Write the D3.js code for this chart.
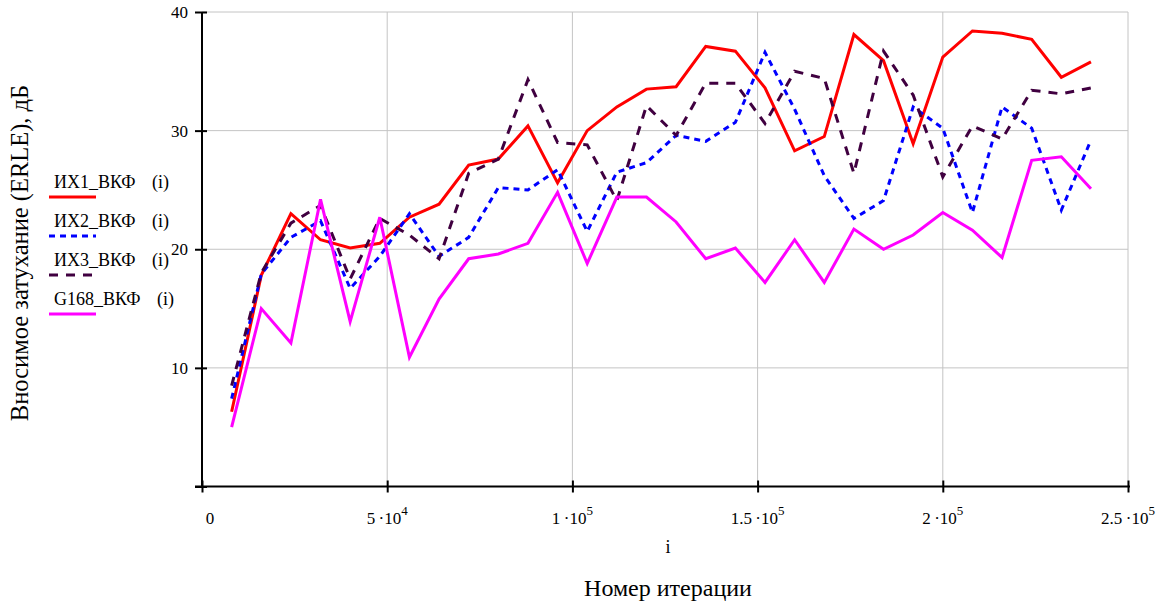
<!DOCTYPE html>
<html>
<head>
<meta charset="utf-8">
<script src="https://cdn.jsdelivr.net/npm/d3@7"></script>
<style>
  html, body { margin: 0; padding: 0; background: #fff; }
  svg { display: block; }
  text { font-family: "Liberation Serif", "Times New Roman", serif; fill: #000; }
</style>
</head>
<body>
<svg id="chart" width="1171" height="605"></svg>
<script>
// Iteration numbers (sample points)
const iterations = [8000, 16000, 24000, 32000, 40000, 48000, 56000, 64000, 72000, 80000,
  88000, 96000, 104000, 112000, 120000, 128000, 136000, 144000, 152000, 160000,
  168000, 176000, 184000, 192000, 200000, 208000, 216000, 224000, 232000, 240000];

// ERLE, dB
const ix1 = [6.3, 17.8, 23.0, 20.8, 20.1, 20.5, 22.7, 23.8, 27.1, 27.6,
  30.4, 25.6, 30.0, 32.0, 33.5, 33.7, 37.1, 36.7, 33.6, 28.3,
  29.5, 38.1, 35.9, 28.9, 36.2, 38.4, 38.2, 37.7, 34.5, 35.8];
const ix2 = [7.4, 17.9, 21.0, 22.4, 16.7, 19.4, 23.0, 19.4, 21.0, 25.2,
  25.0, 26.7, 21.5, 26.5, 27.3, 29.6, 29.1, 30.7, 36.6, 31.8,
  26.2, 22.6, 24.1, 32.0, 30.2, 23.1, 32.0, 30.2, 23.3, 29.2];
const ix3 = [8.5, 18.0, 22.2, 23.7, 17.5, 22.6, 21.2, 19.2, 26.4, 27.6,
  34.3, 29.0, 28.8, 24.1, 32.1, 29.6, 34.0, 34.0, 30.6, 35.0,
  34.4, 26.4, 36.7, 33.0, 26.1, 30.4, 29.3, 33.4, 33.1, 33.6];
const g168 = [5.0, 15.0, 12.1, 24.2, 13.9, 22.7, 10.9, 15.8, 19.2, 19.6,
  20.5, 24.8, 18.8, 24.4, 24.4, 22.3, 19.2, 20.1, 17.2, 20.8,
  17.2, 21.7, 20.0, 21.2, 23.1, 21.6, 19.3, 27.5, 27.8, 25.1];

const seriesNames = ["ИХ1_ВКФ", "ИХ2_ВКФ", "ИХ3_ВКФ", "G168_ВКФ"];
const seriesValues = [ix1, ix2, ix3, g168];

const xTicks = [0, 50000, 100000, 150000, 200000, 250000];
const xTickMantissa = ["0", "5", "1", "1.5", "2", "2.5"];
const xTickExponent = ["", "4", "5", "5", "5", "5"];
const yTicks = [0, 10, 20, 30, 40];

const colors = ["#ff0000", "#0000ff", "#400040", "#ff00ff"];
const dashes = [null, "6,5", "9,8", null];

const svg = d3.select("#chart");
const x = d3.scaleLinear().domain([0, 250000]).range([202, 1128]);
const y = d3.scaleLinear().domain([0, 40]).range([486.5, 12]);

// grid
const grid = svg.append("g").attr("stroke", "#c4c4c4").attr("stroke-width", 1);
grid.selectAll("line.v").data(xTicks.slice(1)).join("line")
  .attr("x1", d => x(d)).attr("x2", d => x(d))
  .attr("y1", y(40)).attr("y2", y(0));
grid.selectAll("line.h").data(yTicks.slice(1)).join("line")
  .attr("x1", x(0)).attr("x2", x(250000))
  .attr("y1", d => y(d)).attr("y2", d => y(d));

// series
const line = d3.line().x((d, i) => x(iterations[i])).y(d => y(d));
seriesValues.forEach((vals, s) => {
  svg.append("path")
    .datum(vals)
    .attr("d", line)
    .attr("fill", "none")
    .attr("stroke", colors[s])
    .attr("stroke-width", 3)
    .attr("stroke-linejoin", "miter")
    .attr("stroke-dasharray", dashes[s]);
});

// y axis
const yAxis = svg.append("g")
  .attr("transform", `translate(${x(0)},0)`)
  .call(d3.axisLeft(y).tickValues(yTicks).tickSize(7).tickPadding(7)
    .tickFormat(d => d === 0 ? "" : d));
yAxis.select(".domain").attr("stroke", "#000").attr("stroke-width", 2)
  .attr("d", `M0,${y(40)}V${y(0)}`);
yAxis.selectAll(".tick line").attr("stroke-width", 2).attr("x1", 5);
yAxis.selectAll(".tick text").attr("font-size", 17)
  .attr("font-family", "Liberation Serif").attr("fill", "#000");

// x axis
const xAxis = svg.append("g")
  .attr("transform", `translate(0,${y(0)})`)
  .call(d3.axisBottom(x).tickValues(xTicks).tickSize(6).tickFormat(""));
xAxis.select(".domain").attr("stroke", "#000").attr("stroke-width", 2)
  .attr("d", `M${x(0) - 7},0H${x(250000) + 2}`);
xAxis.selectAll(".tick line").attr("stroke-width", 2).attr("y1", -6);

const xLab = svg.append("g");
xTicks.forEach((t, i) => {
  const txt = xLab.append("text")
    .attr("x", x(t) + (i === 0 ? 8 : 0))
    .attr("y", 524)
    .attr("text-anchor", "middle")
    .attr("font-size", 17);
  if (xTickExponent[i] === "") {
    txt.text(xTickMantissa[i]);
  } else {
    txt.append("tspan").text(xTickMantissa[i] + "\u2009·10");
    txt.append("tspan").attr("font-size", 13).attr("dy", -9).text(xTickExponent[i]);
  }
});

// axis titles
svg.append("text").attr("x", 668).attr("y", 553).attr("text-anchor", "middle")
  .attr("font-size", 18).text("i");
svg.append("text").attr("x", 668).attr("y", 596).attr("text-anchor", "middle")
  .attr("font-size", 24).text("Номер итерации");
svg.append("text")
  .attr("transform", "translate(28,253) rotate(-90)")
  .attr("text-anchor", "middle")
  .attr("font-size", 24.5)
  .text("Вносимое затухание (ERLE), дБ");

// legend
const legend = svg.append("g");
seriesNames.forEach((name, s) => {
  const ly = 197 + s * 39;
  legend.append("text").attr("x", 54).attr("y", ly - 9).attr("font-size", 18).text(name);
  legend.append("text").attr("x", s === 3 ? 157 : 152).attr("y", ly - 9).attr("font-size", 18).text("(i)");
  legend.append("line")
    .attr("x1", 49).attr("x2", 96).attr("y1", ly).attr("y2", ly)
    .attr("stroke", colors[s]).attr("stroke-width", 3)
    .attr("stroke-dasharray", dashes[s]);
});
</script>
</body>
</html>
